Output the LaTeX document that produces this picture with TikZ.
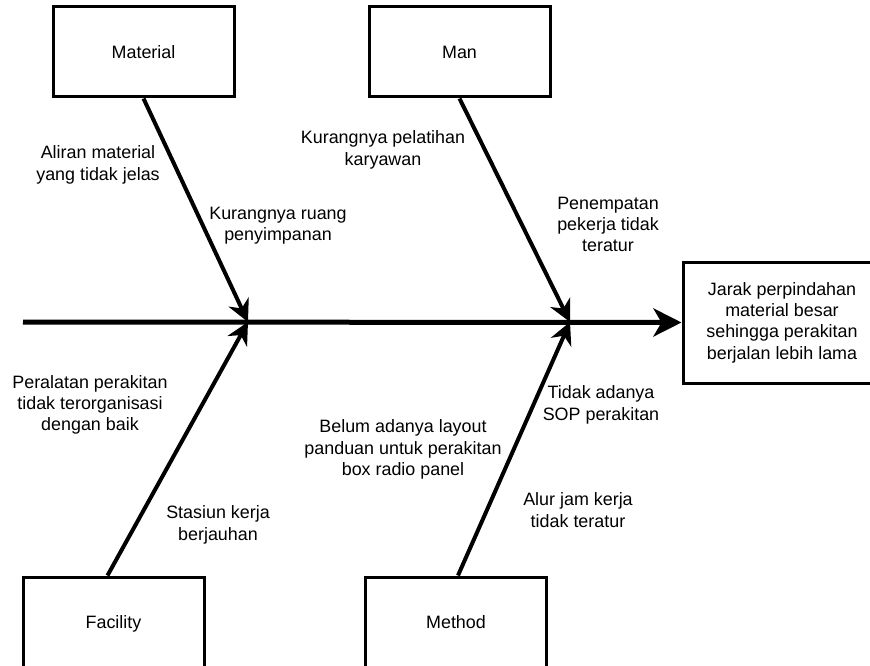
\documentclass[tikz,border=0pt]{standalone}
\usepackage{fontspec}
\setmainfont{Liberation Sans}
\usetikzlibrary{arrows.meta}
\begin{document}
\begin{tikzpicture}[x=1pt,y=-1pt,
  catbox/.style={draw=black, line width=3pt, fill=white, minimum width=181pt, minimum height=90pt, inner sep=0pt, font=\fontsize{17.9}{21.3}\selectfont},
  cattext/.style={text height=15.8pt, text depth=3.6pt},
  lbl/.style={align=center, inner sep=0pt, font=\fontsize{17.9}{21.3}\selectfont},
  bone/.style={line width=4pt, -{Stealth[length=22pt,width=22pt,inset=7pt]}},
  spine/.style={line width=5pt, -{Stealth[length=28pt,width=28pt,inset=8pt]}}]
\useasboundingbox (0,0) rectangle (870,666);
\clip (0,0) rectangle (870,666);
\fill[white] (0,0) rectangle (870,666);
% boxes
\node[catbox, cattext] (mat) at (143.5,52) {Material};
\node[catbox, cattext] (man) at (459.5,52) {Man};
\node[catbox, cattext] (fac) at (113.5,622) {Facility};
\node[catbox, cattext] (met) at (456,622) {Method};
\node[catbox, minimum width=198pt, minimum height=121pt, align=center] (eff) at (782,322.5) {Jarak perpindahan\\material besar\\sehingga perakitan\\berjalan lebih lama};
% spine
\coordinate (s0) at (23,322);
\coordinate (j1) at (248,322);
\coordinate (j2) at (570,322);
\draw[spine] (s0) -- (eff.west);
% bones
\draw[bone] (mat.south) -- (j1);
\draw[bone] ([xshift=-6pt]fac.north) -- (j1);
\draw[bone] (man.south) -- (j2);
\draw[bone] ([xshift=2pt]met.north) -- (j2);
% labels
\node[lbl] (l1) at (98,165) {Aliran material\\yang tidak jelas};
\node[lbl] (l2) at (278,225.5) {Kurangnya ruang\\penyimpanan};
\node[lbl] (l3) at (383,150) {Kurangnya pelatihan\\karyawan};
\node[lbl] (l4) at (608,224.5) {Penempatan\\pekerja tidak\\teratur};
\node[lbl] (l5) at (90,405) {Peralatan perakitan\\tidak terorganisasi\\dengan baik};
\node[lbl] (l6) at (403,449.5) {Belum adanya layout\\panduan untuk perakitan\\box radio panel};
\node[lbl] (l7) at (218,525) {Stasiun kerja\\berjauhan};
\node[lbl] (l8) at (601,405) {Tidak adanya\\SOP perakitan};
\node[lbl] (l9) at (578,510) {Alur jam kerja\\tidak teratur};
\end{tikzpicture}
\end{document}
